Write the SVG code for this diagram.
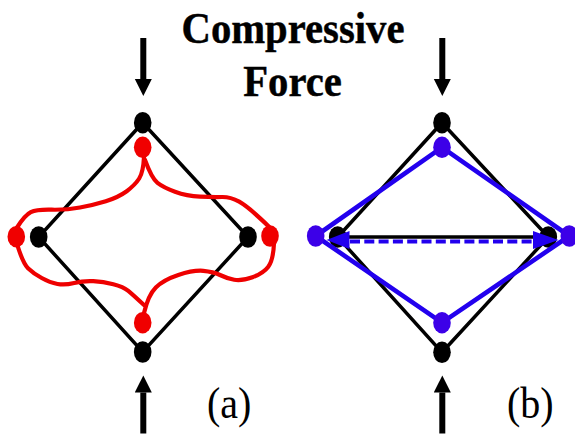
<svg xmlns="http://www.w3.org/2000/svg" width="575" height="434" viewBox="0 0 575 434">
<style>
text{font-family:"Liberation Serif","Times New Roman",serif;fill:#000}
.title{font-size:40.7px;font-weight:bold;text-anchor:middle;stroke:#000;stroke-width:.4}
.cap{font-size:40px}
.k{fill:#000}.r{fill:#f00000}.b{fill:#3c00e8}
.ke{fill:none;stroke:#000;stroke-width:3.5}
.re{fill:none;stroke:#ee0000;stroke-width:4.2;stroke-linecap:round;stroke-linejoin:round}
.be{fill:none;stroke:#2200ee;stroke-width:4.6;stroke-linejoin:round}
.force{stroke:#000;stroke-width:6;fill:none;marker-end:url(#fh)}
</style>
<defs>
<marker id="fh" markerUnits="userSpaceOnUse" markerWidth="18" markerHeight="18" refX="0" refY="8.5" orient="auto"><path d="M0 0L17 8.5L0 17Z" fill="#000"/></marker>
</defs>
<rect width="575" height="434" fill="#fff"/>
<g id="labels">
<text class="title" transform="translate(293 42.5) scale(1 1.08)">Compressive</text>
<text class="title" transform="translate(292.5 96) scale(1 1.08)">Force</text>
<text class="cap" transform="translate(207 418) scale(1 1.1)">(a)</text>
<text class="cap" transform="translate(507 418) scale(1 1.1)">(b)</text>
</g>
<g id="a-top"><ellipse class="k" cx="142.7" cy="122.7" rx="8.8" ry="10.8"/></g>
<g id="a-bottom"><ellipse class="k" cx="142.7" cy="352" rx="8.8" ry="10.8"/></g>
<g id="a-left"><ellipse class="k" cx="38.7" cy="237" rx="8.8" ry="10.8"/></g>
<g id="a-right"><ellipse class="k" cx="248" cy="237" rx="8.8" ry="10.8"/></g>
<g id="b-top"><ellipse class="k" cx="442" cy="122.7" rx="8.8" ry="10.8"/></g>
<g id="b-bottom"><ellipse class="k" cx="442" cy="352.3" rx="8.8" ry="10.8"/></g>
<g id="b-left"><ellipse class="k" cx="337.7" cy="237" rx="8.8" ry="10.8"/></g>
<g id="b-right"><ellipse class="k" cx="548.3" cy="237" rx="8.8" ry="10.8"/></g>
<g id="connectors">
<path class="ke" d="M142.7 122.7L248 237L142.7 352L38.7 237Z"/>
<path class="ke" d="M442 122.7L548.3 237L442 352.3L337.7 237Z"/>
<path class="re" d="M144 157Q143.3 172 139.2 178.5Q135 185 126.7 191.2Q118.3 197.3 105.8 201.2Q93.3 205 80 207.5Q66.7 210 51.7 209.7Q36.7 209.3 30.8 212.2Q25 215 16.7 228"/>
<path class="re" d="M16.7 243Q22.7 263 28 268.2Q33.3 273.3 41.7 278Q50 282.7 57.5 284Q65 285.3 74.2 283Q83.3 280.7 93.3 281.2Q103.3 281.7 113.3 284.2Q123.3 286.7 128.3 290.8Q133.3 295 144 305"/>
<path class="re" d="M144 313Q148.3 295 155.8 287.5Q163.3 280 178.3 275Q193.3 270 203.3 270.8Q213.3 271.7 220 275Q226.7 278.3 234.2 279.7Q241.7 281 252.5 277.2Q263.3 273.3 268.3 266.7Q273.3 260 274 243"/>
<path class="re" d="M269 226.7Q248.3 206.7 239.2 201.7Q230 196.7 221.7 197Q213.3 197.3 200 196.7Q186.7 196 175 191.7Q163.3 187.3 157.5 182.8Q151.7 178.3 145 160"/>
<path class="be" d="M442 147.3L569.3 236L442 322.7L315.7 236Z"/>
<line x1="348" y1="237" x2="536" y2="237" stroke="#000" stroke-width="3.5"/>
<line x1="350" y1="241.5" x2="533" y2="241.5" stroke="#2200ee" stroke-width="4" stroke-dasharray="10 4.3"/>
<path d="M349.5 231L326.5 240L349.5 249Z" fill="#2200ee"/>
<path d="M533 231L558.5 240L533 249Z" fill="#2200ee"/>
<line class="force" x1="143.3" y1="38" x2="143.3" y2="79"/>
<line class="force" x1="442.3" y1="38" x2="442.3" y2="79"/>
<line class="force" x1="143.3" y1="433.5" x2="143.3" y2="392.5"/>
<line class="force" x1="442.3" y1="433.5" x2="442.3" y2="392.5"/>
</g>
<g id="a-top-moved"><ellipse class="r" cx="142.7" cy="147.3" rx="8.8" ry="10.8"/></g>
<g id="a-bottom-moved"><ellipse class="r" cx="142.7" cy="322.7" rx="8.8" ry="10.8"/></g>
<g id="a-left-moved"><ellipse class="r" cx="16.3" cy="236.7" rx="8.8" ry="10.8"/></g>
<g id="a-right-moved"><ellipse class="r" cx="270" cy="236" rx="8.8" ry="10.8"/></g>
<g id="b-top-moved"><ellipse class="b" cx="442" cy="147.3" rx="8.8" ry="10.8"/></g>
<g id="b-bottom-moved"><ellipse class="b" cx="442" cy="322.7" rx="8.8" ry="10.8"/></g>
<g id="b-left-moved"><ellipse class="b" cx="315.7" cy="236" rx="8.8" ry="10.8"/></g>
<g id="b-right-moved"><ellipse class="b" cx="569.3" cy="236" rx="8.8" ry="10.8"/></g>
</svg>
